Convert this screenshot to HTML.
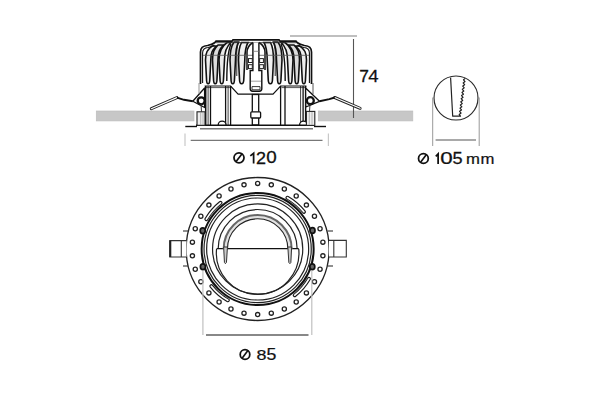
<!DOCTYPE html>
<html><head><meta charset="utf-8">
<style>
html,body{margin:0;padding:0;background:#fff;width:600px;height:400px;overflow:hidden}
svg{display:block}
text{font-family:"Liberation Sans",sans-serif;fill:#111}
</style></head><body>
<svg width="600" height="400" viewBox="0 0 600 400">
<!-- ceiling bars -->
<rect x="96.3" y="111" width="97.7" height="9.9" fill="#c7c7c7" stroke="#bdbdbd" stroke-width="0.7"/>
<rect x="318.3" y="111" width="94.5" height="9.9" fill="#c7c7c7" stroke="#bdbdbd" stroke-width="0.7"/>

<!-- top dimension -->
<line x1="290" y1="36" x2="357" y2="36" stroke="#aaa" stroke-width="1.3"/>
<line x1="353.5" y1="39" x2="353.5" y2="118" stroke="#555" stroke-width="1.1"/>

<!-- Ø120 dimension -->
<line x1="185" y1="133.5" x2="185" y2="146" stroke="#c8c8c8" stroke-width="1.2"/>
<line x1="328.4" y1="133.5" x2="328.4" y2="146" stroke="#c8c8c8" stroke-width="1.2"/>
<line x1="190.7" y1="140.3" x2="322.5" y2="140.3" stroke="#777" stroke-width="1.3"/>

<!-- right detail circle -->
<circle cx="456" cy="98" r="22" fill="none" stroke="#2a2a2a" stroke-width="1.15"/>
<path d="M450.6,77.6 L452.7,116.2 L460.5,116.2 L459.21,114.44 L461.09,113.07 L459.60,111.29 L461.48,109.92 L459.99,108.14 L461.87,106.77 L460.38,104.99 L462.27,103.62 L460.77,101.84 L462.66,100.47 L461.17,98.69 L463.05,97.32 L461.56,95.54 L463.44,94.17 L461.95,92.39 L463.83,91.02 L462.34,89.24 L464.22,87.87 L462.73,86.09 L464.62,84.72 L463.12,82.94 L465.01,81.57 L463.52,79.79 L465.20,78.40" fill="none" stroke="#222" stroke-width="1.2" stroke-linejoin="round"/>
<line x1="432.7" y1="97.5" x2="432.7" y2="146" stroke="#999" stroke-width="1"/>
<line x1="479.2" y1="97.5" x2="479.2" y2="146" stroke="#999" stroke-width="1"/>
<line x1="435.6" y1="140" x2="476" y2="140" stroke="#555" stroke-width="1.2"/>

<!-- side view -->
<path d="M200.5,84 V52 C200.5,47.5 203,45.8 207.5,45.5 L214.5,45 V41.2 H232 L233,39.8 H279 L284,41 H296 L296.5,43.5 L304.5,45.5 C309,45.8 311.5,47.5 311.5,52 V84 Z" fill="#fff" stroke="none"/>
<path d="M212.00,46.00 C207.45,50.00 205.50,52.00 205.50,60 L206.50,79 Q206.50,83.8 208.15,83.8 Q209.80,83.8 209.80,79 L210.80,60 C210.80,52.00 212.51,50.00 216.50,46.00 Z" fill="#ececec" stroke="#111" stroke-width="1.6"/>
<path d="M 300.00,46.00 C 304.55,50.00 306.50,52.00 306.50,60 L 305.50,79 Q 305.50,83.8 303.85,83.8 Q 302.20,83.8 302.20,79 L 301.20,60 C 301.20,52.00 299.49,50.00 295.50,46.00 Z" fill="#ececec" stroke="#111" stroke-width="1.6"/>
<path d="M218.00,45.00 C214.15,49.00 212.50,52.00 212.50,60 L213.50,79 Q213.50,83.8 215.25,83.8 Q217.00,83.8 217.00,79 L218.00,60 C218.00,52.00 219.65,49.00 223.50,45.00 Z" fill="#dcdcdc" stroke="#111" stroke-width="1.6"/>
<path d="M 294.00,45.00 C 297.85,49.00 299.50,52.00 299.50,60 L 298.50,79 Q 298.50,83.8 296.75,83.8 Q 295.00,83.8 295.00,79 L 294.00,60 C 294.00,52.00 292.35,49.00 288.50,45.00 Z" fill="#dcdcdc" stroke="#111" stroke-width="1.6"/>
<path d="M227.00,42.50 C221.40,46.50 219.00,52.00 219.00,60 L220.00,79 Q220.00,83.8 221.75,83.8 Q223.50,83.8 223.50,79 L224.50,60 C224.50,52.00 226.45,46.50 231.00,42.50 Z" fill="#eaeaea" stroke="#111" stroke-width="1.6"/>
<path d="M 285.00,42.50 C 290.60,46.50 293.00,52.00 293.00,60 L 292.00,79 Q 292.00,83.8 290.25,83.8 Q 288.50,83.8 288.50,79 L 287.50,60 C 287.50,52.00 285.55,46.50 281.00,42.50 Z" fill="#eaeaea" stroke="#111" stroke-width="1.6"/>
<path d="M234.00,42.00 C231.20,46.00 230.00,52.00 230.00,60 L231.00,79 Q231.00,83.8 232.75,83.8 Q234.50,83.8 234.50,79 L235.50,60 C235.50,52.00 236.40,46.00 238.50,42.00 Z" fill="#dedede" stroke="#111" stroke-width="1.6"/>
<path d="M 278.00,42.00 C 280.80,46.00 282.00,52.00 282.00,60 L 281.00,79 Q 281.00,83.8 279.25,83.8 Q 277.50,83.8 277.50,79 L 276.50,60 C 276.50,52.00 275.60,46.00 273.50,42.00 Z" fill="#dedede" stroke="#111" stroke-width="1.6"/>
<path d="M241.50,42.50 C239.40,46.50 238.50,52.00 238.50,60 L239.50,79 Q239.50,83.8 241.65,83.8 Q243.80,83.8 243.80,79 L244.80,60 C244.80,52.00 245.76,46.50 248.00,42.50 Z" fill="#f0f0f0" stroke="#111" stroke-width="1.6"/>
<path d="M 270.50,42.50 C 272.60,46.50 273.50,52.00 273.50,60 L 272.50,79 Q 272.50,83.8 270.35,83.8 Q 268.20,83.8 268.20,79 L 267.20,60 C 267.20,52.00 266.24,46.50 264.00,42.50 Z" fill="#f0f0f0" stroke="#111" stroke-width="1.6"/>
<path d="M200.5,84 V52 C200.5,47.5 203,45.8 207.5,45.5 C210,45.2 212.5,44.5 215,42.5 L216,41.2 H232 L233,39.8 H256" fill="none" stroke="#111" stroke-width="1.7"/>
<path d="M 311.50,84 V 52 C 311.50,47.5 309.00,45.8 304.50,45.5 C 302.00,45.2 299.50,44.5 297.00,42.5 L 296.00,41.2 H 280.00 L 279.00,39.8 H 256.00" fill="none" stroke="#111" stroke-width="1.7"/>
<path d="M202.6,83 V53 C202.6,49.5 204.5,47.8 208,47.5 C210.5,47.2 212.5,46.5 214.5,45" fill="none" stroke="#111" stroke-width="1.1"/>
<path d="M 309.40,83 V 53 C 309.40,49.5 307.50,47.8 304.00,47.5 C 301.50,47.2 299.50,46.5 297.50,45" fill="none" stroke="#111" stroke-width="1.1"/>
<path d="M226.8,81 C226.8,65 227.5,52 231,44" fill="none" stroke="#111" stroke-width="1.4"/>
<path d="M 285.20,81 C 285.20,65 284.50,52 281.00,44" fill="none" stroke="#111" stroke-width="1.4"/>
<path d="M236.8,76 V52 C237,48 237.5,45 239,42.5" fill="none" stroke="#111" stroke-width="0.9"/>
<path d="M 275.20,76 V 52 C 275.00,48 274.50,45 273.00,42.5" fill="none" stroke="#111" stroke-width="0.9"/>
<path d="M247,70 V52 C247.2,48 249,45 252.9,42.5" fill="none" stroke="#111" stroke-width="1.5"/>
<path d="M 265.00,70 V 52 C 264.80,48 263.00,45 259.10,42.5" fill="none" stroke="#111" stroke-width="1.5"/>
<line x1="203" y1="55.3" x2="309" y2="55.3" stroke="#555" stroke-width="0.8"/>
<line x1="216" y1="42.7" x2="296" y2="42.7" stroke="#333" stroke-width="0.9"/>
<path d="M252.9,42.5 V70.5 H250.2 V88.8 Q250.2,91.2 252.6,91.2 H259.4 Q261.8,91.2 261.8,88.8 V70.5 H258.9 V42.5" fill="#fff" stroke="#111" stroke-width="1.4"/>
<path d="M252,86.6 H260 V89.8 H252 Z" fill="#fff" stroke="#222" stroke-width="0.9"/>
<rect x="248.5" y="58.6" width="3.8" height="3.9" fill="#fff" stroke="#222" stroke-width="1"/>
<rect x="259.6" y="58.6" width="3.8" height="3.9" fill="#fff" stroke="#222" stroke-width="1"/>
<rect x="248.5" y="64.7" width="3.8" height="3.9" fill="#fff" stroke="#222" stroke-width="1"/>
<rect x="259.6" y="64.7" width="3.8" height="3.9" fill="#fff" stroke="#222" stroke-width="1"/>
<line x1="253" y1="51.3" x2="258.8" y2="51.3" stroke="#777" stroke-width="0.8"/>
<line x1="251" y1="81.2" x2="261" y2="81.2" stroke="#888" stroke-width="0.8"/>
<g fill="none" stroke="#111">
<path d="M204.6,86 H230.6 L238.1,94.2 H273 L280.6,86 H306.4" stroke-width="1.2"/>
<path d="M205,87.6 H230" stroke-width="0.7"/><path d="M281.5,87.6 H306" stroke-width="0.7"/>
<line x1="205.7" y1="86" x2="205.7" y2="125" stroke-width="1.5"/>
<line x1="208.1" y1="86" x2="208.1" y2="125" stroke-width="0.8"/>
<line x1="210.5" y1="86" x2="210.5" y2="125" stroke-width="1.3"/>
<line x1="225.6" y1="86" x2="225.6" y2="125" stroke-width="1.3"/>
<line x1="228.1" y1="86" x2="228.1" y2="125" stroke-width="0.8"/>
<line x1="230.6" y1="86" x2="230.6" y2="125" stroke-width="1.3"/>
<line x1="280.6" y1="86" x2="280.6" y2="125" stroke-width="1.3"/>
<line x1="285.0" y1="86" x2="285.0" y2="125" stroke-width="1.3"/>
<line x1="300.6" y1="86" x2="300.6" y2="125" stroke-width="0.8"/>
<line x1="303.1" y1="86" x2="303.1" y2="125" stroke-width="1.3"/>
<line x1="305.6" y1="86" x2="305.6" y2="125" stroke-width="1.4"/>
</g>
<rect x="252.3" y="94.5" width="6.4" height="30.5" fill="#fff" stroke="#111" stroke-width="1.3"/>
<rect x="250.8" y="111.8" width="9.8" height="6.2" rx="1" fill="#fff" stroke="#111" stroke-width="1.3"/>
<path d="M218.2,125 A3.9,3.9 0 0 1 226,125" fill="#fff" stroke="#111" stroke-width="1.3"/>
<path d="M299.6,125 A3.9,3.9 0 0 1 307.4,125" fill="#fff" stroke="#111" stroke-width="1.3"/>
<line x1="196" y1="125.3" x2="314" y2="125.3" stroke="#111" stroke-width="1.6"/>
<line x1="185.3" y1="126.5" x2="197" y2="126.5" stroke="#111" stroke-width="1.4"/>
<line x1="314" y1="126.5" x2="326" y2="126.5" stroke="#111" stroke-width="1.4"/>
<line x1="200" y1="128.7" x2="313" y2="128.7" stroke="#777" stroke-width="1.5"/>
<g fill="#eee" stroke="#222" stroke-width="1.1">
<rect x="197" y="111.8" width="8" height="13.5"/>
<rect x="306.4" y="111.4" width="8.4" height="14"/>
</g>
<g stroke="#999" stroke-width="0.7"><line x1="200.7" y1="112" x2="200.7" y2="125"/><line x1="203" y1="112" x2="203" y2="125"/><line x1="309.3" y1="112" x2="309.3" y2="125"/><line x1="312" y1="112" x2="312" y2="125"/></g>
<path d="M151.3,108.7 L176.9,97.6" fill="none" stroke="#222" stroke-width="3" stroke-linecap="round"/>
<path d="M151.3,108.7 L176.9,97.6" fill="none" stroke="#fff" stroke-width="1.2" stroke-linecap="round"/>
<path d="M176.9,97.6 L184,99.8 L192.8,101.2" fill="none" stroke="#111" stroke-width="1.9"/>
<path d="M192.8,101.2 L204.6,88 L204.6,107.5 Z" fill="#fff" stroke="#111" stroke-width="1.3" stroke-linejoin="round"/>
<circle cx="201.2" cy="100.8" r="3.5" fill="#fff" stroke="#111" stroke-width="2.3"/>
<line x1="201" y1="104" x2="201.5" y2="111.8" stroke="#333" stroke-width="1"/>
<line x1="199" y1="83" x2="199" y2="94" stroke="#888" stroke-width="0.9"/>
<path d="M334.7,97.5 L360.1,108.3" fill="none" stroke="#222" stroke-width="3" stroke-linecap="round"/>
<path d="M334.7,97.5 L360.1,108.3" fill="none" stroke="#fff" stroke-width="1.2" stroke-linecap="round"/>
<path d="M319.5,101.3 L329.3,99.1 L334.7,97.5" fill="none" stroke="#111" stroke-width="1.9"/>
<path d="M319.5,101.3 L305.6,88 L305.8,107 Z" fill="#fff" stroke="#111" stroke-width="1.3" stroke-linejoin="round"/>
<circle cx="310.3" cy="100.7" r="3.5" fill="#fff" stroke="#111" stroke-width="2.3"/>
<line x1="310" y1="104" x2="309.5" y2="111.4" stroke="#333" stroke-width="1"/>
<line x1="313" y1="83" x2="313" y2="94" stroke="#444" stroke-width="0.9"/>
<!-- front view -->
<circle cx="257.65" cy="249.00" r="71.5" fill="none" stroke="#222" stroke-width="1.3"/>
<g fill="none" stroke="#222" stroke-width="1.3"><circle cx="322.89" cy="242.14" r="2.1"/><circle cx="320.04" cy="228.73" r="2.1"/><circle cx="314.46" cy="216.20" r="2.1"/><circle cx="306.40" cy="205.11" r="2.1"/><circle cx="296.21" cy="195.93" r="2.1"/><circle cx="284.33" cy="189.07" r="2.1"/><circle cx="271.29" cy="184.83" r="2.1"/><circle cx="257.65" cy="183.40" r="2.1"/><circle cx="244.01" cy="184.83" r="2.1"/><circle cx="230.97" cy="189.07" r="2.1"/><circle cx="219.09" cy="195.93" r="2.1"/><circle cx="208.90" cy="205.11" r="2.1"/><circle cx="200.84" cy="216.20" r="2.1"/><circle cx="195.26" cy="228.73" r="2.1"/><circle cx="192.41" cy="242.14" r="2.1"/><circle cx="192.41" cy="255.86" r="2.1"/><circle cx="195.26" cy="269.27" r="2.1"/><circle cx="200.84" cy="281.80" r="2.1"/><circle cx="208.90" cy="292.89" r="2.1"/><circle cx="219.09" cy="302.07" r="2.1"/><circle cx="230.97" cy="308.93" r="2.1"/><circle cx="244.01" cy="313.17" r="2.1"/><circle cx="257.65" cy="314.60" r="2.1"/><circle cx="271.29" cy="313.17" r="2.1"/><circle cx="284.33" cy="308.93" r="2.1"/><circle cx="296.21" cy="302.07" r="2.1"/><circle cx="306.40" cy="292.89" r="2.1"/><circle cx="314.46" cy="281.80" r="2.1"/><circle cx="320.04" cy="269.27" r="2.1"/><circle cx="322.89" cy="255.86" r="2.1"/></g>
<path d="M303.86,211.84 A59.3,59.3 0 0 0 287.48,197.75 M220.49,202.79 A59.3,59.3 0 0 0 206.40,219.17 M211.44,286.16 A59.3,59.3 0 0 0 227.82,300.25 M294.81,295.21 A59.3,59.3 0 0 0 308.90,278.83" fill="none" stroke="#1a1a1a" stroke-width="4.0" stroke-linecap="round"/>
<path d="M303.86,211.84 A59.3,59.3 0 0 0 287.48,197.75 M220.49,202.79 A59.3,59.3 0 0 0 206.40,219.17 M211.44,286.16 A59.3,59.3 0 0 0 227.82,300.25 M294.81,295.21 A59.3,59.3 0 0 0 308.90,278.83" fill="none" stroke="#fff" stroke-width="1.7" stroke-linecap="round"/>
<path d="M302.70,213.42 A57.4,57.4 0 0 0 286.09,199.14 M222.07,203.95 A57.4,57.4 0 0 0 207.79,220.56 M212.60,284.58 A57.4,57.4 0 0 0 229.21,298.86 M293.23,294.05 A57.4,57.4 0 0 0 307.51,277.44" fill="none" stroke="#888" stroke-width="1.0"/>
<circle cx="257.65" cy="249.00" r="56.0" fill="none" stroke="#111" stroke-width="2.00"/>
<circle cx="257.65" cy="249.00" r="53.6" fill="none" stroke="#222" stroke-width="1.20"/>
<circle cx="257.65" cy="249.00" r="51.0" fill="none" stroke="#222" stroke-width="1.20"/>
<circle cx="257.65" cy="249.00" r="45.1" fill="none" stroke="#222" stroke-width="1.20"/>
<path d="M218.15,249.00 A39.5,39.5 0 0 1 297.15,249.00" fill="none" stroke="#222" stroke-width="1.2"/>
<path d="M216.55,249.00 A41.3,41.3 0 1 0 298.75,249.00" fill="none" stroke="#222" stroke-width="1.2"/>
<line x1="216.55" y1="248.60" x2="298.75" y2="248.60" stroke="#111" stroke-width="1.3"/>
<path d="M225.55,249.00 A32.1,32.1 0 0 1 289.75,249.00" fill="none" stroke="#e2e2e2" stroke-width="3.6"/>
<path d="M223.65,249.00 A34.0,34.0 0 0 1 291.65,249.00" fill="none" stroke="#666" stroke-width="2.0"/>
<path d="M227.45,249.00 A30.2,30.2 0 0 1 287.85,249.00" fill="none" stroke="#222" stroke-width="1.1"/>
<path d="M223.65,247.00 L227.45,247.00 L226.45,262.50 Q225.35,264.80 224.45,262.50 Z" fill="#ccc" stroke="#333" stroke-width="1"/>
<path d="M291.65,247.00 L287.85,247.00 L288.85,262.50 Q289.95,264.80 290.85,262.50 Z" fill="#ccc" stroke="#333" stroke-width="1"/>
<ellipse cx="202.7" cy="230.8" rx="2.5" ry="2.9" fill="#666" stroke="#111" stroke-width="1.7"/>
<ellipse cx="202.9" cy="266.8" rx="2.5" ry="2.9" fill="#666" stroke="#111" stroke-width="1.7"/>
<ellipse cx="312.5" cy="230.5" rx="2.5" ry="2.9" fill="#666" stroke="#111" stroke-width="1.7"/>
<ellipse cx="312.3" cy="266.8" rx="2.5" ry="2.9" fill="#666" stroke="#111" stroke-width="1.7"/>
<g fill="#fff" stroke="#333" stroke-width="1.1"><path d="M186.5,240.6 H169.8 V257 H186.5"/><line x1="181.3" y1="240.6" x2="181.3" y2="257"/><path d="M329,240.4 H346.3 V257 H329"/><line x1="333.8" y1="240.4" x2="333.8" y2="257"/></g>
<line x1="170.3" y1="240.6" x2="170.3" y2="257" stroke="#222" stroke-width="2"/>
<g stroke="#333" stroke-width="1.1"><line x1="183" y1="231" x2="188" y2="231"/><line x1="183" y1="266" x2="188" y2="266"/><line x1="327.5" y1="231" x2="333" y2="231"/><line x1="327.5" y1="266" x2="333" y2="266"/></g>

<!-- Ø85 dimension -->
<line x1="202.9" y1="271" x2="202.9" y2="335" stroke="#c0c0c0" stroke-width="1.2"/>
<line x1="311.8" y1="271" x2="311.8" y2="335" stroke="#c0c0c0" stroke-width="1.2"/>
<line x1="206" y1="335" x2="308.5" y2="335" stroke="#888" stroke-width="1.8"/>
<text transform="matrix(1.0861,0,0,1.0583,359.21,81.75)" font-size="16" stroke="#111" stroke-width="0.25">7</text>
<text transform="matrix(1.1597,0,0,1.0583,368.32,81.75)" font-size="16" stroke="#111" stroke-width="0.25">4</text>
<circle cx="239.00" cy="157.80" r="5.02" fill="none" stroke="#111" stroke-width="1.75"/><line x1="236.13" y1="161.61" x2="242.27" y2="153.47" stroke="#111" stroke-width="1.66"/>
<path d="M250.30,155.85 L253.62,153.35 V163.60" fill="none" stroke="#111" stroke-width="1.75" stroke-linejoin="miter"/>
<text transform="matrix(1.1250,0,0,1.0159,255.89,163.60)" font-size="16" stroke="#111" stroke-width="0.25">2</text>
<text transform="matrix(1.1767,0,0,1.0019,266.26,163.44)" font-size="16" stroke="#111" stroke-width="0.25">0</text>
<circle cx="423.40" cy="158.50" r="4.88" fill="none" stroke="#111" stroke-width="1.75"/><line x1="420.61" y1="162.20" x2="426.57" y2="154.30" stroke="#111" stroke-width="1.66"/>
<path d="M435.80,156.40 L438.12,153.90 V164.00" fill="none" stroke="#111" stroke-width="1.75" stroke-linejoin="miter"/>
<text transform="matrix(1.3990,0,0,0.9887,440.13,163.85)" font-size="16" stroke="#111" stroke-width="0.25">0</text>
<text transform="matrix(1.1337,0,0,1.0032,452.57,163.84)" font-size="16" stroke="#111" stroke-width="0.25">5</text>
<text transform="matrix(1.0436,0,0,0.8711,466.09,164.00)" font-size="16" stroke="#111" stroke-width="0.25">m</text>
<text transform="matrix(1.0436,0,0,0.8711,480.49,164.00)" font-size="16" stroke="#111" stroke-width="0.25">m</text>
<circle cx="245.00" cy="354.45" r="4.80" fill="none" stroke="#111" stroke-width="1.75"/><line x1="242.26" y1="358.09" x2="248.12" y2="350.31" stroke="#111" stroke-width="1.66"/>
<text transform="matrix(1.1188,0,0,0.9710,256.52,359.95)" font-size="16" stroke="#111" stroke-width="0.25">8</text>
<text transform="matrix(1.1073,0,0,0.9853,266.49,359.95)" font-size="16" stroke="#111" stroke-width="0.25">5</text>
</svg>
</body></html>
